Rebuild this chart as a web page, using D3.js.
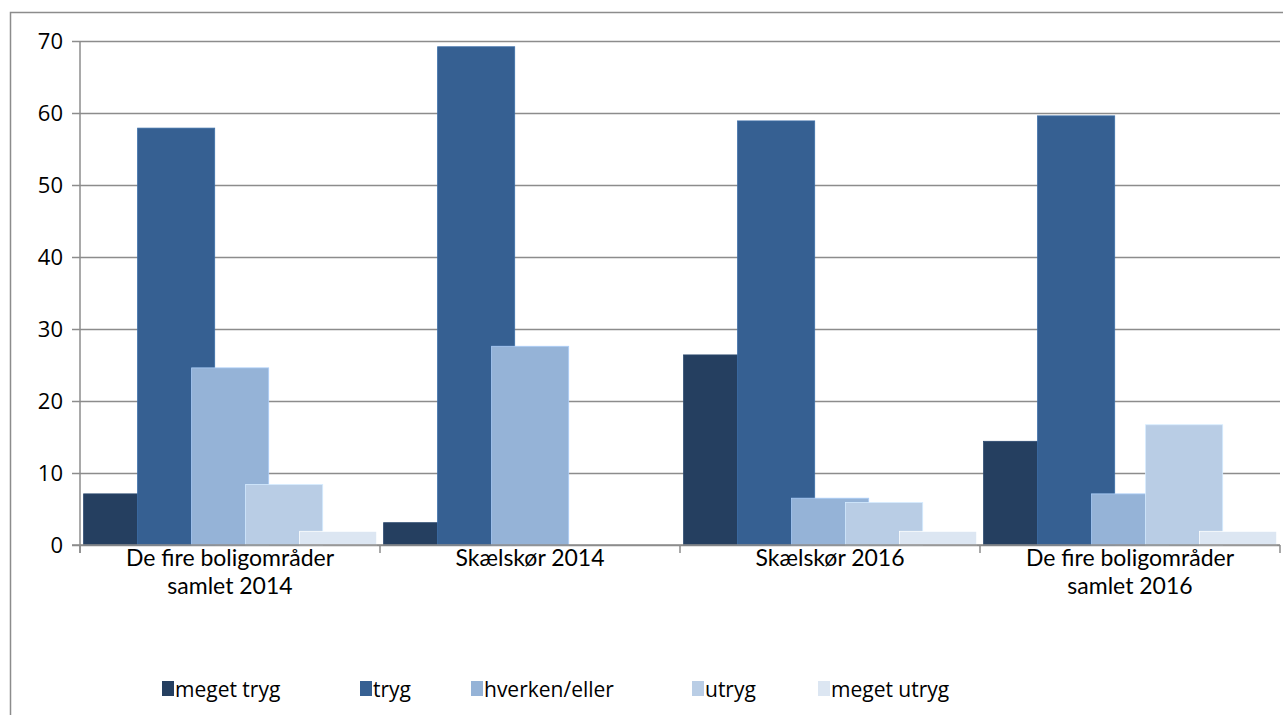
<!DOCTYPE html>
<html>
<head>
<meta charset="utf-8">
<script src="https://cdn.jsdelivr.net/npm/d3@7"></script>
<style>
  body { margin: 0; background: #fff; }
  svg text { font-family: "Open Sans", Lato, sans-serif; fill: #000; }
  svg text.cat { font-family: Lato, "Open Sans", sans-serif; }
</style>
</head>
<body>
<div id="chart"></div>
<script>
// data
var categories = [
  ["De fire boligområder", "samlet 2014"],
  ["Skælskør 2014"],
  ["Skælskør 2016"],
  ["De fire boligområder", "samlet 2016"]
];
var seriesNames = ["meget tryg", "tryg", "hverken/eller", "utryg", "meget utryg"];
var colors = ["#253f60", "#366092", "#95b3d7", "#b9cde5", "#dce6f2"];
var megetTryg = [7.1, 3.1, 26.4, 14.4];
var tryg = [57.9, 69.2, 58.9, 59.6];
var hverken = [24.6, 27.6, 6.5, 7.1];
var utryg = [8.4, 0, 5.9, 16.7];
var megetUtryg = [1.9, 0, 1.9, 1.9];
var yTicks = [0, 10, 20, 30, 40, 50, 60, 70];

var allSeries = [megetTryg, tryg, hverken, utryg, megetUtryg];

var W = 1283, H = 715;
var mLeft = 80, mRight = 1280, mTop = 41, mBottom = 545;

var svg = d3.select("#chart").append("svg")
  .attr("width", W).attr("height", H);

// outer frame (runs off the page on the right and bottom)
svg.append("rect")
  .attr("x", 10.5).attr("y", 12.5)
  .attr("width", W + 20).attr("height", H + 20)
  .attr("fill", "none").attr("stroke", "#8c8c8c").attr("stroke-width", 1.5);

var x0 = d3.scaleBand().domain(d3.range(categories.length)).range([mLeft, mRight]).padding(0);
var y = d3.scaleLinear().domain([0, 70]).range([mBottom, mTop]);

var gw = x0.bandwidth();
var step = gw * 0.18;
var bw = gw * 0.257;
var inner = d3.scaleLinear().domain([0, 1]).range([gw * 0.012, gw * 0.012 + step]);

// gridlines + y axis
var yAxis = d3.axisLeft(y).tickValues(yTicks).tickSize(mRight - mLeft + 8).tickPadding(12)
  .tickFormat(d3.format("d"));
var gy = svg.append("g").attr("transform", "translate(" + mRight + ",0)").call(yAxis);
gy.select(".domain").remove();
gy.selectAll(".tick line").attr("stroke", "#8c8c8c").attr("stroke-width", 1.5);
gy.selectAll(".tick text").style("font-size", "22px").attr("x", -(mRight - mLeft + 8) - 9);

// bars, later series on top
allSeries.forEach(function (vals, si) {
  svg.append("g").selectAll("rect")
    .data(vals)
    .enter()
    .append("rect")
    .attr("x", function (d, i) { return x0(i) + inner(si); })
    .attr("width", bw)
    .attr("y", function (d) { return y(d); })
    .attr("height", function (d) { return y(0) - y(d); })
    .attr("fill", colors[si])
    .attr("stroke", d3.color(colors[si]).brighter(0.4))
    .attr("stroke-width", function (d) { return d > 0 ? 0.8 : 0; });
});

// axis lines
svg.append("line").attr("x1", mLeft).attr("x2", mLeft).attr("y1", mTop).attr("y2", mBottom + 8)
  .attr("stroke", "#8c8c8c").attr("stroke-width", 1.5);
svg.append("line").attr("x1", mLeft - 8).attr("x2", mRight).attr("y1", mBottom).attr("y2", mBottom)
  .attr("stroke", "#8c8c8c").attr("stroke-width", 1.5);
svg.selectAll(".xtick").data(d3.range(categories.length + 1)).enter().append("line")
  .attr("x1", function (d) { return mLeft + d * gw; })
  .attr("x2", function (d) { return mLeft + d * gw; })
  .attr("y1", mBottom).attr("y2", mBottom + 8)
  .attr("stroke", "#8c8c8c").attr("stroke-width", 1.5);

// category labels
categories.forEach(function (lines, i) {
  lines.forEach(function (l, j) {
    svg.append("text")
      .attr("class", "cat")
      .attr("text-anchor", "middle")
      .attr("x", x0(i) + gw / 2)
      .attr("y", 566 + j * 28)
      .style("font-size", "23px")
      .text(l);
  });
});

// legend
var legendX = [162, 360, 471, 692, 818];
var leg = svg.append("g");
seriesNames.forEach(function (name, i) {
  leg.append("rect").attr("x", legendX[i]).attr("y", 681)
    .attr("width", 12).attr("height", 15).attr("fill", colors[i]);
  leg.append("text").attr("x", legendX[i] + 13).attr("y", 697)
    .style("font-size", "21px").text(name);
});
</script>
</body>
</html>
